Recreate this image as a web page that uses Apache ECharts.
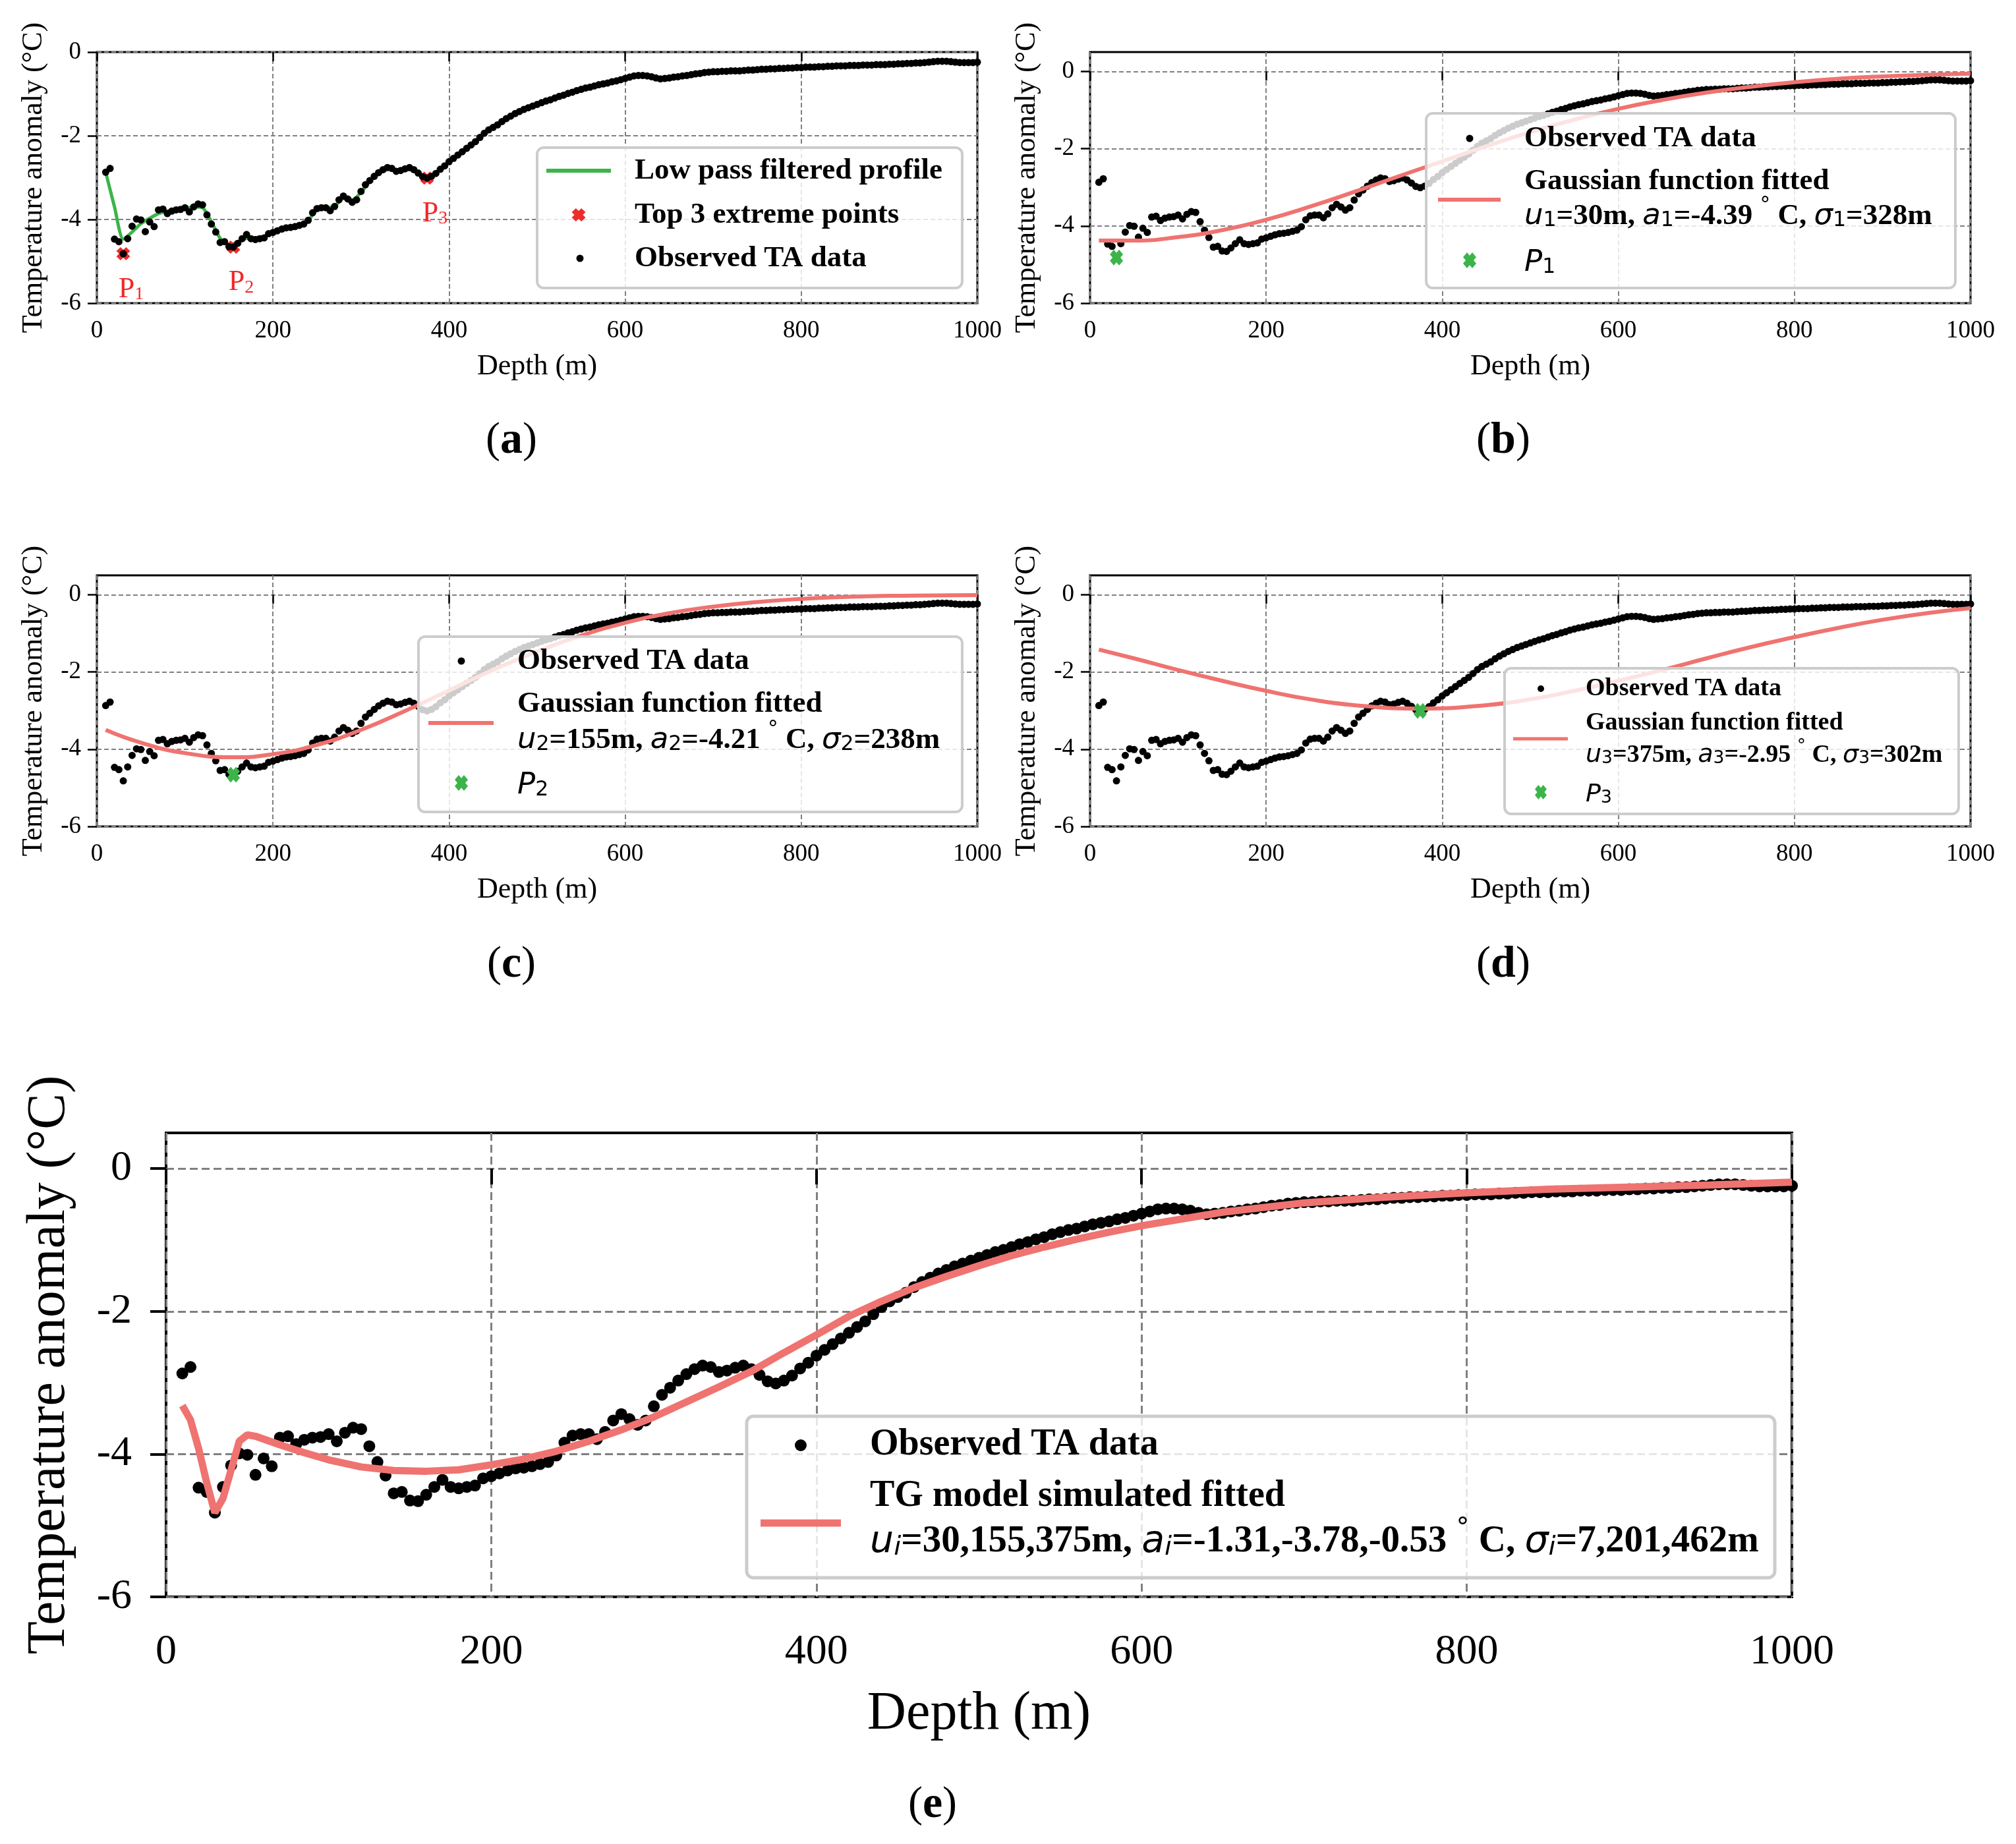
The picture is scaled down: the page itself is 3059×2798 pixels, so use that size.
<!DOCTYPE html>
<html><head><meta charset="utf-8">
<script src="https://cdn.jsdelivr.net/npm/echarts@6/dist/echarts.min.js"></script>
<style>html,body{margin:0;padding:0;background:#fff}#c{width:3059px;height:2798px}</style>
</head><body><div id="c"></div>
<script>
// ---------------- DATA ----------------
const depth = [
 10,15,20,25,30,35,40,45,50,55, 60,65,70,75,80,85,90,95,100,105,
 110,115,120,125,130,135,140,145,150,155, 160,165,170,175,180,185,190,195,200,205,
 210,215,220,225,230,235,240,245,250,255, 260,265,270,275,280,285,290,295,300,305,
 310,315,320,325,330,335,340,345,350,355, 360,365,370,375,380,385,390,395,400,405,
 410,415,420,425,430,435,440,445,450,455, 460,465,470,475,480,485,490,495,500,505,
 510,515,520,525,530,535,540,545,550,555, 560,565,570,575,580,585,590,595,600,605,
 610,615,620,625,630,635,640,645,650,655, 660,665,670,675,680,685,690,695,700,705,
 710,715,720,725,730,735,740,745,750,755, 760,765,770,775,780,785,790,795,800,805,
 810,815,820,825,830,835,840,845,850,855, 860,865,870,875,880,885,890,895,900,905,
 910,915,920,925,930,935,940,945,950,955, 960,965,970,975,980,985,990,995,1000
];
const observedTA = [
 -2.87,-2.78,-4.47,-4.53,-4.82,-4.46,-4.16,-3.99,-4.01,-4.29,
 -4.06,-4.17,-3.77,-3.75,-3.86,-3.80,-3.77,-3.76,-3.72,-3.82,
 -3.70,-3.63,-3.65,-3.89,-4.11,-4.30,-4.55,-4.53,-4.65,-4.66,
 -4.57,-4.46,-4.36,-4.46,-4.48,-4.46,-4.44,-4.34,-4.31,-4.27,
 -4.23,-4.20,-4.19,-4.17,-4.14,-4.11,-4.02,-3.84,-3.74,-3.72,
 -3.72,-3.79,-3.69,-3.53,-3.44,-3.51,-3.59,-3.53,-3.33,-3.17,
 -3.07,-2.97,-2.88,-2.81,-2.76,-2.78,-2.85,-2.83,-2.79,-2.76,
 -2.81,-2.89,-2.98,-3.01,-2.97,-2.90,-2.80,-2.72,-2.62,-2.54,
 -2.46,-2.38,-2.30,-2.22,-2.14,-2.04,-1.94,-1.86,-1.80,-1.74,
 -1.66,-1.59,-1.53,-1.47,-1.42,-1.37,-1.33,-1.29,-1.25,-1.21,
 -1.17,-1.14,-1.10,-1.06,-1.03,-0.99,-0.96,-0.92,-0.89,-0.86,
 -0.84,-0.81,-0.78,-0.76,-0.74,-0.71,-0.69,-0.66,-0.63,-0.60,
 -0.57,-0.56,-0.56,-0.57,-0.59,-0.62,-0.64,-0.63,-0.62,-0.60,
 -0.59,-0.57,-0.56,-0.54,-0.52,-0.51,-0.49,-0.48,-0.47,-0.47,
 -0.46,-0.46,-0.45,-0.45,-0.45,-0.44,-0.43,-0.43,-0.42,-0.41,
 -0.41,-0.40,-0.40,-0.39,-0.39,-0.38,-0.38,-0.37,-0.37,-0.36,
 -0.36,-0.36,-0.35,-0.35,-0.34,-0.34,-0.33,-0.33,-0.33,-0.32,
 -0.32,-0.32,-0.31,-0.31,-0.31,-0.30,-0.30,-0.30,-0.29,-0.29,
 -0.28,-0.28,-0.27,-0.27,-0.26,-0.26,-0.25,-0.24,-0.23,-0.22,
 -0.22,-0.22,-0.23,-0.24,-0.25,-0.25,-0.25,-0.25,-0.24
];
const lowPassDepth = [
 10,20,30,40,50,60,70,80,90,100, 110,120,130,140,150,160,170,180,190,200,
 210,220,230,240,250,260,270,280,290,300, 310,320,330,340,350,360,370,380,390,400,
 410,420,430,440,450,460,470,480,490,500, 510,520,530,540,550,560,570,580,590,600,
 610,620,630,640,650,660,670,680,690,700, 710,720,730,740,750,760,770,780,790,800,
 810,820,830,840,850,860,870,880,890,900, 910,920,930,940,950,960,970,980,990,1000
];
const lowPassTA = [
 -2.87,-3.70,-4.47,-4.30,-4.10,-3.97,-3.86,-3.80,-3.77,-3.74,
 -3.70,-3.72,-4.05,-4.45,-4.60,-4.55,-4.45,-4.44,-4.40,-4.31,
 -4.23,-4.19,-4.14,-4.02,-3.77,-3.73,-3.68,-3.50,-3.53,-3.35,
 -3.08,-2.89,-2.78,-2.83,-2.80,-2.81,-2.96,-2.96,-2.80,-2.62,
 -2.46,-2.30,-2.14,-1.94,-1.80,-1.66,-1.53,-1.42,-1.33,-1.25,
 -1.17,-1.10,-1.03,-0.96,-0.89,-0.84,-0.78,-0.74,-0.69,-0.63,
 -0.58,-0.57,-0.59,-0.63,-0.62,-0.59,-0.56,-0.52,-0.49,-0.47,
 -0.46,-0.45,-0.45,-0.43,-0.42,-0.41,-0.40,-0.39,-0.38,-0.37,
 -0.36,-0.35,-0.34,-0.33,-0.33,-0.32,-0.31,-0.31,-0.30,-0.29,
 -0.28,-0.27,-0.26,-0.25,-0.23,-0.22,-0.23,-0.25,-0.25,-0.24
];
const extremeDepth = [30, 155, 375];
const extremeTA = [-4.82, -4.66, -3.01];
const extremeNames = ['1', '2', '3'];

const gauss1Depth = [10,50,100,150,200,250,300,350,400,450,500,550,600,650,700,750,800,850,900,950,1000];
const gauss1TA = [-4.38,-4.38,-4.29,-4.11,-3.84,-3.50,-3.12,-2.72,-2.33,-1.94,-1.57,-1.25,-0.97,-0.74,-0.55,-0.40,-0.28,-0.19,-0.13,-0.09,-0.06];
const gauss2Depth = [10,50,100,155,200,250,300,350,400,450,500,550,600,650,700,750,800,850,900,950,1000];
const gauss2TA = [-3.50,-3.83,-4.10,-4.21,-4.13,-3.89,-3.50,-3.01,-2.48,-1.95,-1.47,-1.06,-0.73,-0.48,-0.31,-0.19,-0.11,-0.06,-0.03,-0.02,-0.01];
const gauss3Depth = [10,50,100,150,200,250,300,375,450,500,550,600,650,700,750,800,850,900,950,1000];
const gauss3TA = [-1.42,-1.65,-1.95,-2.23,-2.49,-2.71,-2.86,-2.95,-2.86,-2.71,-2.49,-2.23,-1.95,-1.65,-1.36,-1.10,-0.86,-0.65,-0.48,-0.35];

const tgDepth = [10,15,20,25,30,35,40,45,50,55,70,85,100,120,140,160,180,200,220,240,260,280,300,320,340,360,380,400,420,440,460,480,500,520,540,560,580,600,650,700,750,800,850,900,950,1000];
const tgTA = [-3.32,-3.52,-3.92,-4.40,-4.82,-4.62,-4.22,-3.82,-3.73,-3.75,-3.87,-3.98,-4.08,-4.18,-4.23,-4.24,-4.22,-4.15,-4.07,-3.96,-3.82,-3.66,-3.48,-3.27,-3.06,-2.84,-2.58,-2.33,-2.07,-1.86,-1.67,-1.51,-1.36,-1.22,-1.10,-0.99,-0.89,-0.80,-0.61,-0.48,-0.40,-0.34,-0.29,-0.26,-0.23,-0.19];

const xTickValues = [0, 200, 400, 600, 800, 1000];
const yTickValues = [-6, -4, -2, 0];

// ---------------- STYLE / LAYOUT ----------------
const SERIF = "'Liberation Serif', 'Times New Roman', serif";
const SANS = "'DejaVu Sans', sans-serif";
const FIT = '#ef7370';
const GREEN = '#3cb44a';
const XRED = '#ee2a2a';
const XPTS = [[3,0],[5,2],[7,0],[10,3],[8,5],[10,7],[7,10],[5,8],[3,10],[0,7],[2,5],[0,3]];
const XSYM = 'path://M' + XPTS.map(p => p[0] + ',' + p[1]).join('L') + 'Z';

const zip = (a, b) => a.map((v, i) => [v, b[i]]);
const obs = zip(depth, observedTA);

const panels = [
  {left:147, top:79, width:1336, height:381, ymax:0, big:false},
  {left:1654, top:79, width:1336, height:381, ymax:0.5, big:false},
  {left:147, top:873, width:1336, height:381, ymax:0.5, big:false},
  {left:1654, top:873, width:1336, height:381, ymax:0.5, big:false},
  {left:252, top:1719, width:2467, height:704, ymax:0.5, big:true}
];

const grids = panels.map(p => ({
  left:p.left, top:p.top, width:p.width, height:p.height, containLabel:false, outerBoundsMode:'none',
  show:true, borderColor:'#000', borderWidth:p.big?4:3, backgroundColor:'transparent'
}));

const xAxes = panels.map((p, i) => ({
  type:'value', gridIndex:i, min:0, max:1000, interval:200,
  name:'Depth (m)', nameLocation:'middle', nameGap:p.big?137:74,
  nameTextStyle:{fontFamily:SERIF, fontSize:p.big?82:44, color:'#000'},
  axisLine:{show:false},
  axisTick:{show:true, length:p.big?24:14, lineStyle:{color:'#000', width:p.big?4:2.5}},
  axisLabel:{fontFamily:SERIF, fontSize:p.big?64:37, color:'#000', margin:p.big?52:24,
    formatter:v => (xTickValues.indexOf(v) >= 0 ? String(v) : '')},
  splitLine:{show:true, lineStyle:{color:'#808080', width:p.big?3:2, type:p.big?[12,6]:[7,4]}}
}));

const yAxes = panels.map((p, i) => ({
  type:'value', gridIndex:i, min:-6, max:p.ymax, interval:2,
  name:'Temperature anomaly (°C)', nameLocation:'middle', nameGap:p.big?136:74,
  nameTextStyle:{fontFamily:SERIF, fontSize:p.big?82:44, color:'#000'},
  axisLine:{show:false},
  axisTick:{show:true, length:p.big?24:14, customValues:yTickValues, lineStyle:{color:'#000', width:p.big?4:2.5}},
  axisLabel:{fontFamily:SERIF, fontSize:p.big?64:37, color:'#000', margin:p.big?52:24, customValues:yTickValues,
    formatter:v => (yTickValues.indexOf(v) >= 0 ? String(v) : '')},
  splitLine:{show:true, lineStyle:{color:'#808080', width:p.big?3:2, type:p.big?[12,6]:[7,4]}}
}));

function obsSeries(i, size, z) {
  return {type:'scatter', name:'Observed TA data', xAxisIndex:i, yAxisIndex:i, data:obs, z,
    symbol:'circle', symbolSize:size, itemStyle:{color:'#000', opacity:1}, silent:true};
}
function fitSeries(i, d, v, w, name, smooth) {
  return {type:'line', name, xAxisIndex:i, yAxisIndex:i, data:zip(d, v), showSymbol:false, z:5,
    smooth, lineStyle:{color:FIT, width:w, opacity:1}, itemStyle:{color:FIT}, silent:true};
}
function pointSeries(i, k) {
  return {type:'scatter', name:'P' + extremeNames[k], xAxisIndex:i, yAxisIndex:i, z:6,
    data:[[extremeDepth[k], extremeTA[k]]], symbol:XSYM, symbolSize:[20,24],
    itemStyle:{color:GREEN, opacity:1}, silent:true};
}

const series = [
  {type:'line', name:'Low pass filtered profile', xAxisIndex:0, yAxisIndex:0, data:zip(lowPassDepth, lowPassTA), z:1,
   showSymbol:false, smooth:0.25, lineStyle:{color:GREEN, width:5}, itemStyle:{color:GREEN}, silent:true},
  {type:'scatter', name:'Top 3 extreme points', xAxisIndex:0, yAxisIndex:0, data:zip(extremeDepth, extremeTA), z:2,
   symbol:XSYM, symbolSize:[21,20], itemStyle:{color:XRED, opacity:1}, silent:true,
   label:{show:true, position:'bottom', distance:0, offset:[12,-4],
     formatter:p => '{n|P}{s|' + extremeNames[p.dataIndex] + '}',
     rich:{n:{fontFamily:SERIF, fontSize:44, color:XRED, lineHeight:70, verticalAlign:'bottom'},
           s:{fontFamily:SERIF, fontSize:28, color:XRED, lineHeight:26, verticalAlign:'bottom'}}}},
  obsSeries(0, 11, 4),

  obsSeries(1, 11, 3), fitSeries(1, gauss1Depth, gauss1TA, 6, 'Gaussian function fitted', true), pointSeries(1, 0),
  obsSeries(2, 11, 3), fitSeries(2, gauss2Depth, gauss2TA, 6, 'Gaussian function fitted', true), pointSeries(2, 1),
  obsSeries(3, 11, 3), fitSeries(3, gauss3Depth, gauss3TA, 6, 'Gaussian function fitted', true), pointSeries(3, 2),

  obsSeries(4, 18, 3), fitSeries(4, tgDepth, tgTA, 11, 'TG model simulated fitted', false)
];

// ---------------- LEGENDS (drawn as graphics) ----------------
function box(x, y, w, h, lw) {
  return {type:'rect', z:100, shape:{x, y, width:w, height:h, r:10},
    style:{fill:'rgba(255,255,255,0.8)', stroke:'#cccccc', lineWidth:lw}};
}
function hline(x1, x2, y, color, lw) {
  return {type:'line', z:101, shape:{x1, y1:y, x2, y2:y}, style:{stroke:color, lineWidth:lw}};
}
function dot(cx, cy, r) {
  return {type:'circle', z:101, shape:{cx, cy, r}, style:{fill:'#000'}};
}
function cross(cx, cy, w, h, color) {
  const pts = XPTS.map(p => [cx + (p[0] - 5) * w / 10, cy + (p[1] - 5) * h / 10]);
  return {type:'polygon', z:101, shape:{points:pts}, style:{fill:color}};
}
function rich(F) {
  return {
    b:{fill:'#000', fontFamily:SERIF, fontWeight:'bold', fontSize:F, lineHeight:1.2*F, verticalAlign:'bottom'},
    m:{fill:'#000', fontFamily:SANS, fontStyle:'italic', fontSize:F, lineHeight:1.2*F, verticalAlign:'bottom'},
    s:{fill:'#000', fontFamily:SANS, fontSize:0.7*F, lineHeight:0.7*F, verticalAlign:'bottom'},
    si:{fill:'#000', fontFamily:SANS, fontStyle:'italic', fontSize:0.7*F, lineHeight:0.7*F, verticalAlign:'bottom'},
    g:{fill:'#000', fontFamily:SANS, fontSize:0.7*F, lineHeight:1.05*F, verticalAlign:'top'}
  };
}
function txt(x, y, text, F) {
  return {type:'text', z:101, x, y, style:{text, fill:'#000', fontFamily:SERIF, fontWeight:'bold',
    fontSize:F, align:'left', verticalAlign:'middle', rich:rich(F)}};
}
function mathLine(k, u, a, s) {
  return '{m|u}{s|' + k + '}{b|=' + u + 'm, }{m|a}{s|' + k + '}{b|=' + a + ' }{g|°}{b| C, }{m|σ}{s|' + k + '}{b|=' + s + 'm}';
}
function panelLabel(cx, cy, letter) {
  return {type:'text', z:101, x:cx, y:cy, style:{text:'{p|(}{l|' + letter + '}{p|)}', align:'center', verticalAlign:'middle',
    fill:'#000', fontFamily:SERIF, fontSize:66,
    rich:{p:{fill:'#000', fontFamily:SERIF, fontSize:66, lineHeight:80},
          l:{fill:'#000', fontFamily:SERIF, fontWeight:'bold', fontSize:68, lineHeight:80}}}};
}

const graphics = [
  // (a)
  box(815, 224, 645, 213, 4),
  hline(829, 927, 259, GREEN, 6), txt(963, 259, 'Low pass filtered profile', 45),
  cross(878, 326, 21, 20, XRED), txt(963, 326, 'Top 3 extreme points', 45),
  dot(880, 392, 5.5), txt(963, 392, 'Observed TA data', 45),
  // (b)
  box(2164, 172, 803, 265, 4),
  dot(2230, 210, 5.5), txt(2313, 210, 'Observed TA data', 45),
  hline(2182, 2277, 303, FIT, 6), txt(2313, 275, 'Gaussian function fitted', 45),
  txt(2313, 324, mathLine(1, '30', '-4.39', '328'), 45),
  cross(2230, 395, 20, 24, GREEN), txt(2313, 395, '{m|P}{s|1}', 45),
  // (c)
  box(635, 966, 825, 266, 4),
  dot(700, 1003, 5.5), txt(785, 1003, 'Observed TA data', 45),
  hline(650, 749, 1097, FIT, 6), txt(785, 1068, 'Gaussian function fitted', 45),
  txt(785, 1119, mathLine(2, '155', '-4.21', '238'), 45),
  cross(700, 1188, 20, 24, GREEN), txt(785, 1188, '{m|P}{s|2}', 45),
  // (d)
  box(2283, 1014, 689, 221, 4),
  dot(2338, 1045, 5), txt(2406, 1045, 'Observed TA data', 38),
  hline(2296, 2379, 1121, FIT, 5), txt(2406, 1097, 'Gaussian function fitted', 38),
  txt(2406, 1142, mathLine(3, '375', '-2.95', '302'), 38),
  cross(2338, 1202, 18, 22, GREEN), txt(2406, 1202, '{m|P}{s|3}', 38),
  // (e)
  box(1133, 2149, 1560, 245, 5),
  dot(1215, 2193, 9), txt(1320, 2193, 'Observed TA data', 56),
  hline(1154, 1276, 2311, FIT, 11), txt(1320, 2271, 'TG model simulated fitted', 56),
  txt(1320, 2334, '{m|u}{si|i}{b|=30,155,375m, }{m|a}{si|i}{b|=-1.31,-3.78,-0.53 }{g|°}{b| C, }{m|σ}{si|i}{b|=7,201,462m}', 57),
  // panel labels
  panelLabel(776, 669, 'a'), panelLabel(2281, 669, 'b'),
  panelLabel(776, 1464, 'c'), panelLabel(2281, 1464, 'd'),
  panelLabel(1415, 2739, 'e')
];

const chart = echarts.init(document.getElementById('c'), null, {renderer:'canvas'});
chart.setOption({
  animation:false,
  backgroundColor:'#ffffff',
  grid:grids, xAxis:xAxes, yAxis:yAxes, series,
  graphic:{elements:graphics}
});
</script></body></html>
